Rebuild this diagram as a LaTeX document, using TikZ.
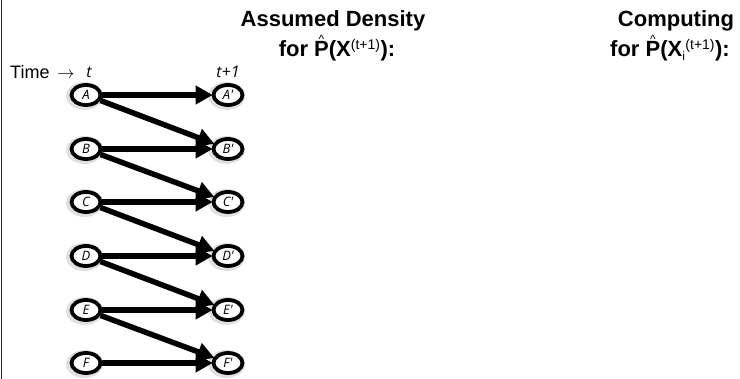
\documentclass[tikz,border=0pt]{standalone}
\usepackage{fontspec}
\setmainfont{Liberation Sans}
\newfontfamily\handfont{Open Sans}
\usetikzlibrary{arrows.meta,shapes.geometric}

% P with a thin caret set above it
\newcommand\hatp{\ooalign{P\cr\hidewidth\raisebox{0.6em}{\fontsize{12}{12}\selectfont\mdseries\textasciicircum}\hidewidth\cr}}

\tikzset{
  varshadow/.style={ellipse, fill=black, opacity=0.12,
    minimum width=37pt, minimum height=28pt, inner sep=0pt},
  var/.style={ellipse, draw=black, line width=3.8pt, fill=white,
    minimum width=29pt, minimum height=20pt, inner sep=0pt,
    font=\handfont\itshape\fontsize{13}{13}\selectfont},
  link/.style={line width=5.5pt, -{Triangle[length=17pt,width=18pt]},
    shorten >=-1pt},
  title/.style={font=\bfseries\fontsize{22}{22}\selectfont, inner sep=0pt,
    anchor=base},
  timelabel/.style={font=\handfont\itshape\fontsize{16}{16}\selectfont,
    inner sep=0pt, anchor=base},
}

\begin{document}
\begin{tikzpicture}[x=1pt,y=-1pt]
  \useasboundingbox (0,0) rectangle (740,379);
  \fill[white] (0,0) rectangle (740,379);

  % frame line on the left side
  \draw[line width=1.4pt, black!85] (1.5,0) -- (1.5,379);

  % headings
  \node[title] (h1a) at (333,27) {Assumed Density};
  \node[title] (h1b) at (337,57) {for \hatp(X\textsuperscript{\mdseries\fontsize{14}{14}\selectfont(t+1)}):};
  \node[title] (h2a) at (676,27) {Computing};
  \node[title] (h2b) at (670,57) {for \hatp(X\textsubscript{\mdseries\fontsize{12}{12}\selectfont i}\textsuperscript{\mdseries\fontsize{14}{14}\selectfont(t+1)}):};

  % time axis labels
  \node[font=\fontsize{18}{18}\selectfont, inner sep=0pt, anchor=base west] (time) at (10,79) {Time};
  \node[font=\fontsize{18}{18}\selectfont, inner sep=0pt, anchor=base] (tarrow) at (66,79) {$\rightarrow$};
  \node[timelabel] (t0) at (89,78) {t};
  \node[timelabel] (t1) at (228,78) {t+1};

  % variables at time t and t+1, each on a soft shadow
  \foreach \n/\y in {A/95, B/149, C/202, D/256, E/310, F/363} {
    \node[varshadow] (\n s) at (84.5,\y+1) {};
    \node[varshadow] (\n's) at (226.5,\y+1) {};
    \node[var] (\n) at (86,\y) {\n};
    \node[var] (\n') at (228,\y) {\n'};
  }

  % persistence and cross-slice dependencies
  \foreach \n in {A,B,C,D,E,F} {
    \draw[link] (\n) -- (\n');
  }
  \foreach \n/\m in {A/B, B/C, C/D, D/E, E/F} {
    \draw[link] (\n) -- (\m');
  }
\end{tikzpicture}
\end{document}
